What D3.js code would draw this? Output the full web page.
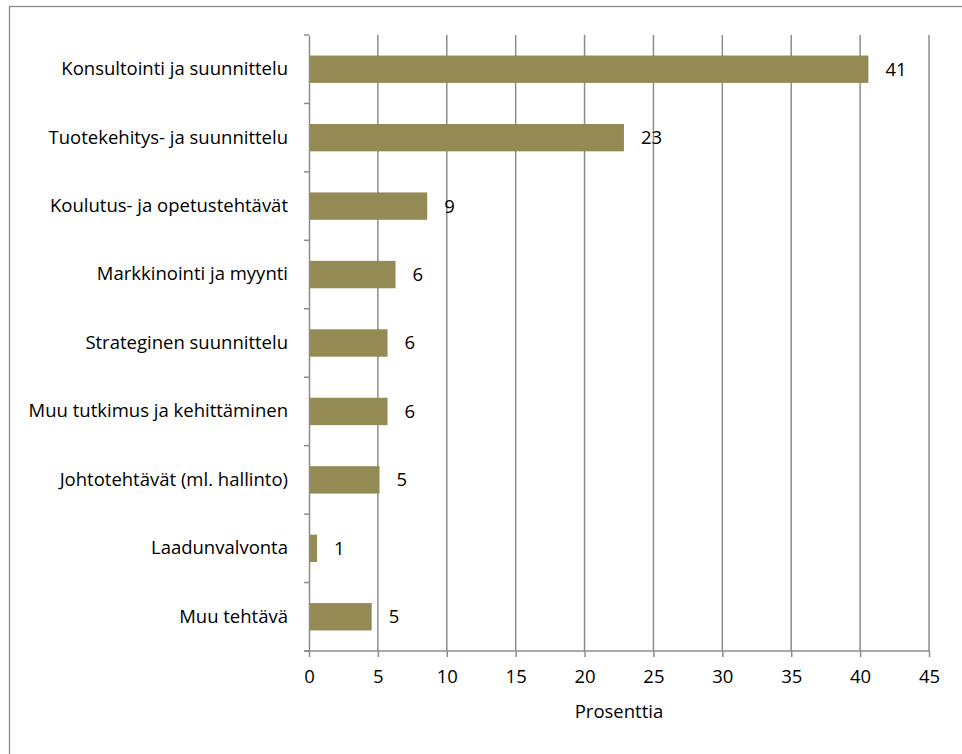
<!DOCTYPE html>
<html><head><meta charset="utf-8">
<script src="https://cdn.jsdelivr.net/npm/d3@7"></script>
<style>body{margin:0;background:#fff}svg{display:block}text{font-family:"Open Sans",sans-serif;fill:#000}</style>
</head><body><svg id="c" width="962" height="754"></svg>
<script>
const categories = ["Konsultointi ja suunnittelu","Tuotekehitys- ja suunnittelu","Koulutus- ja opetustehtävät","Markkinointi ja myynti","Strateginen suunnittelu","Muu tutkimus ja kehittäminen","Johtotehtävät (ml. hallinto)","Laadunvalvonta","Muu tehtävä"];
const values = [40.6, 22.86, 8.58, 6.28, 5.7, 5.7, 5.12, 0.58, 4.55];
const xTicks = [0,5,10,15,20,25,30,35,40,45];
const xTitle = "Prosenttia";

const svg = d3.select("#c");
svg.append("rect").attr("x",9.5).attr("y",6.5).attr("width",1000).attr("height",1000).attr("fill","none").attr("stroke","#8c8c8c").attr("stroke-width",1.3);

const pL=309, pR=929, pT=35, pB=651;
const FS=18.5;
const x = d3.scaleLinear().domain([0,45]).range([pL,pR]);
const y = d3.scaleBand().domain(categories).range([pT,pB]).paddingInner(0.6).paddingOuter(0.3);
const yb = d3.scaleBand().domain(categories).range([pT,pB]);

const grid="#8c8c8c";
const FF="'Open Sans',sans-serif";
svg.append("g").selectAll("line").data(xTicks.slice(1)).join("line")
  .attr("x1",d=>x(d)).attr("x2",d=>x(d)).attr("y1",pT).attr("y2",pB)
  .attr("stroke",grid).attr("stroke-width",1.5);

svg.append("g").selectAll("rect").data(values).join("rect")
  .attr("x",x(0)).attr("y",(d,i)=>y(categories[i]))
  .attr("width",d=>x(d)-x(0)).attr("height",y.bandwidth())
  .attr("fill","#948a54");

svg.append("g").selectAll("text").data(values).join("text")
  .attr("x",d=>x(d)+17).attr("y",(d,i)=>y(categories[i])+y.bandwidth()/2)
  .attr("dy","0.35em").attr("font-size",FS).text(d=>Math.round(d));

const ya = svg.append("g").attr("transform",`translate(${pL},0)`)
  .call(d3.axisLeft(yb).tickSize(0).tickPadding(21));
ya.select(".domain").attr("stroke",grid).attr("stroke-width",1.5);
ya.selectAll("text").attr("font-size",FS).style("font-family",FF).attr("fill","#000");
const bounds = categories.map(c=>yb(c)).concat([pB]);
svg.append("g").selectAll("line").data(bounds).join("line")
  .attr("x1",pL-5).attr("x2",pL).attr("y1",d=>d).attr("y2",d=>d)
  .attr("stroke",grid).attr("stroke-width",1.5);

const xa = svg.append("g").attr("transform",`translate(0,${pB})`)
  .call(d3.axisBottom(x).tickValues(xTicks).tickSize(6).tickPadding(13).tickSizeOuter(0));
xa.select(".domain").attr("stroke",grid).attr("stroke-width",1.5).attr("d",`M${pL-5},0H${pR}`);
xa.selectAll(".tick line").attr("stroke",grid).attr("stroke-width",1.5);
xa.selectAll("text").attr("font-size",FS).style("font-family",FF).attr("fill","#000");

svg.append("text").attr("x",(x(20)+x(25))/2).attr("y",712).attr("dy","0.35em")
  .attr("text-anchor","middle").attr("font-size",FS).text(xTitle);
</script></body></html>
